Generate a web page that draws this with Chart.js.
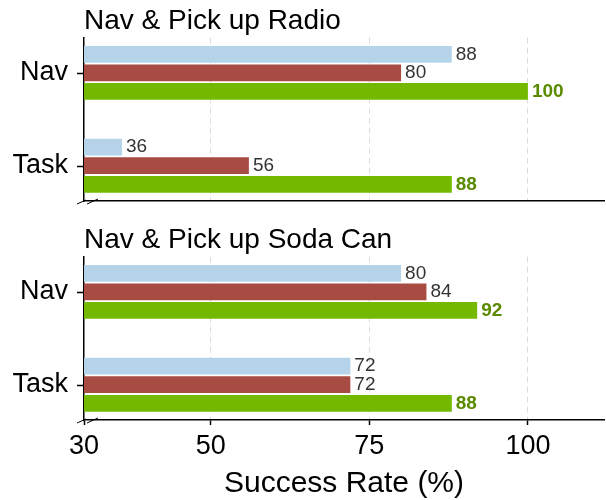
<!DOCTYPE html>
<html>
<head>
<meta charset="utf-8">
<script src="https://cdn.jsdelivr.net/npm/chart.js"></script>
<style>
  body { margin: 0; background: #fff; }
  #wrap { position: relative; width: 606px; height: 500px; }
  .box { position: absolute; left: 0; width: 606px; }
</style>
</head>
<body>
<div id="wrap">
  <div class="box" style="top:0;height:212px"><canvas id="top-chart"></canvas></div>
  <div class="box" style="top:219px;height:281px"><canvas id="bottom-chart"></canvas></div>
</div>
<script>
const categories = ['Nav', 'Task'];
const xTicks = [30, 50, 75, 100];

const radioBlue = [88, 36];
const radioRed = [80, 56];
const radioGreen = [100, 88];

const sodaBlue = [80, 72];
const sodaRed = [84, 72];
const sodaGreen = [92, 88];

const FONT = "'Liberation Sans', Arial, sans-serif";
const colors = ['#b6d4e9', '#a84b43', '#74b800'];

// value labels at the end of each bar
const valueLabels = {
    id: 'valueLabels',
    afterDatasetsDraw(chart) {
        const ctx = chart.ctx;
        ctx.save();
        ctx.textBaseline = 'middle';
        ctx.textAlign = 'left';
        chart.data.datasets.forEach((ds, i) => {
            const meta = chart.getDatasetMeta(i);
            const bold = i === 2;
            ctx.font = (bold ? 'bold ' : '') + '19px ' + FONT;
            ctx.fillStyle = bold ? '#5a8a00' : '#333333';
            meta.data.forEach((bar, j) => {
                ctx.fillText(ds.data[j].x, bar.x + 4, bar.y);
            });
        });
        ctx.restore();
    }
};

// y tick marks + axis break marks in the lower left corner
const axisMarks = {
    id: 'axisMarks',
    afterDraw(chart) {
        const {left, bottom} = chart.chartArea;
        const y = chart.scales.y;
        const ctx = chart.ctx;
        ctx.save();
        ctx.strokeStyle = '#000';
        ctx.lineWidth = 1.5;
        ctx.beginPath();
        categories.forEach((c, i) => {
            const py = Math.round(y.getPixelForValue(i)) + 0.5;
            ctx.moveTo(left - 7, py);
            ctx.lineTo(left, py);
        });
        ctx.stroke();
        ctx.lineWidth = 1;
        ctx.beginPath();
        ctx.moveTo(left - 7, bottom + 3);
        ctx.lineTo(left + 2, bottom - 1);
        ctx.moveTo(left + 3, bottom + 3);
        ctx.lineTo(left + 14, bottom - 2);
        ctx.stroke();
        ctx.restore();
    }
};

function makeChart(id, title, blue, red, green, showX) {
    const toPts = arr => arr.map((v, i) => ({x: v, y: i}));
    const xScale = {
        type: 'linear',
        min: 30,
        max: 112,
        afterBuildTicks: s => { s.ticks = xTicks.map(v => ({value: v})); },
        afterFit: s => { s.height = showX ? 80 : 11; },
        grid: {
            color: c => (c.tick && c.tick.value === 30) ? 'rgba(0,0,0,0)' : '#dcdcdc',
            lineWidth: 1,
            drawTicks: showX,
            tickLength: 5,
            tickColor: '#000000',
            tickWidth: 1.5,
            tickBorderDash: []
        },
        border: { display: true, color: '#000', width: 1.5, dash: [6, 4] },
        ticks: {
            display: showX,
            color: '#000',
            font: { family: FONT, size: 27 },
            padding: 5
        },
        title: {
            display: showX,
            text: 'Success Rate (%)',
            color: '#000',
            font: { family: FONT, size: 30, lineHeight: 1.0 },
            padding: { top: 2, bottom: 1 }
        }
    };

    return new Chart(document.getElementById(id), {
        type: 'bar',
        data: {
            datasets: [
                { data: toPts(blue), backgroundColor: colors[0] },
                { data: toPts(red), backgroundColor: colors[1] },
                { data: toPts(green), backgroundColor: colors[2] }
            ]
        },
        options: {
            indexAxis: 'y',
            responsive: true,
            maintainAspectRatio: false,
            animation: false,
            categoryPercentage: 0.6,
            barPercentage: 0.9,
            layout: { padding: { left: 0, right: 2, top: 0, bottom: 0 } },
            plugins: {
                legend: { display: false },
                tooltip: { enabled: false },
                title: {
                    display: true,
                    text: title,
                    align: 'start',
                    fullSize: false,
                    color: '#000',
                    font: { family: FONT, size: 28, weight: 'normal' },
                    padding: { top: 4, bottom: 0 }
                }
            },
            scales: {
                x: xScale,
                y: {
                    type: 'linear',
                    offset: false,
                    reverse: true,
                    min: -0.38,
                    max: 1.38,
                    afterBuildTicks: s => { s.ticks = categories.map((c, i) => ({value: i})); },
                    afterFit: s => {
                        s.width = 84;
                        s.paddingTop = 0;
                        s.paddingBottom = 0;
                    },
                    grid: { display: false, offset: false },
                    border: { display: true, color: '#000', width: 1.5 },
                    ticks: {
                        color: '#000',
                        font: { family: FONT, size: 27 },
                        padding: 8,
                        callback: v => categories[v]
                    }
                }
            }
        },
        plugins: [valueLabels, axisMarks]
    });
}

makeChart('top-chart', 'Nav & Pick up Radio', radioBlue, radioRed, radioGreen, false);
makeChart('bottom-chart', 'Nav & Pick up Soda Can', sodaBlue, sodaRed, sodaGreen, true);
</script>
</body>
</html>
